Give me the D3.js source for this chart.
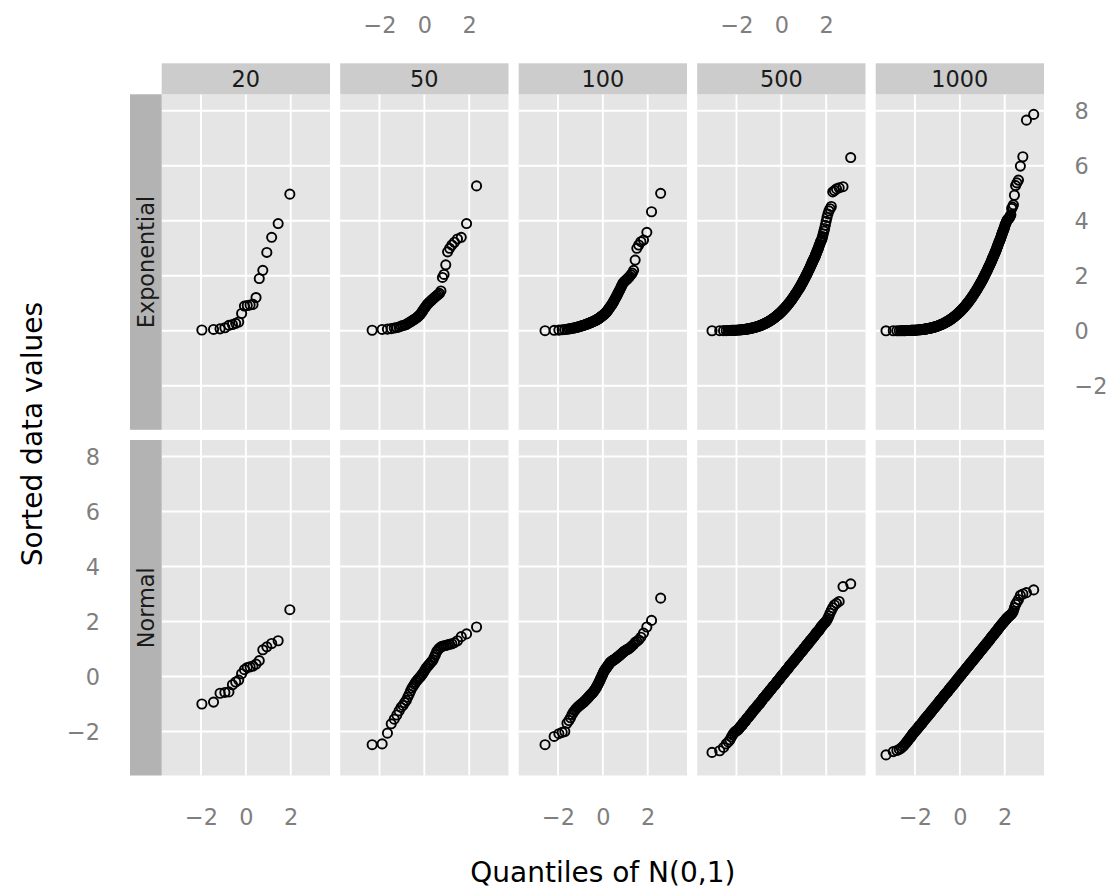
<!DOCTYPE html>
<html>
<head>
<meta charset="utf-8">
<script src="https://cdn.jsdelivr.net/npm/d3@7"></script>
<style>
  html, body { margin: 0; padding: 0; background: #ffffff; }
  svg { display: block; }
</style>
</head>
<body>
<svg id="chart" width="1110" height="891"></svg>
<script>
// ---------------- DATA ----------------
const sampleSizes = [20, 50, 100, 500, 1000];
const distributions = ["Exponential", "Normal"];
const xTickValues = [-2, 0, 2];
const yTickValues = [-2, 0, 2, 4, 6, 8];

// Sorted sample values, small samples (one value per rank 1..n)
const exp20 = [0.03, 0.05, 0.07, 0.11, 0.2, 0.23, 0.27, 0.32, 0.63, 0.9, 0.92, 0.94, 0.96, 1.21, 1.9, 2.2, 2.85, 3.4, 3.9, 4.97];
const norm20 = [-1.0, -0.93, -0.61, -0.58, -0.56, -0.3, -0.2, -0.13, 0.1, 0.25, 0.33, 0.35, 0.38, 0.45, 0.58, 0.97, 1.08, 1.2, 1.3, 2.43];

const exp50 = [0.02, 0.05, 0.06, 0.08, 0.1, 0.12, 0.14, 0.17, 0.19, 0.21, 0.23, 0.27, 0.3, 0.33, 0.36, 0.39, 0.42, 0.45, 0.48, 0.52,
  0.56, 0.6, 0.66, 0.72, 0.78, 0.84, 0.9, 0.96, 1.0, 1.04, 1.08, 1.12, 1.16, 1.2, 1.24, 1.28, 1.32, 1.36, 1.45, 1.94,
  2.05, 2.4, 2.87, 3.0, 3.12, 3.22, 3.34, 3.4, 3.9, 5.27];
const norm50 = [-2.48, -2.45, -2.06, -1.72, -1.55, -1.4, -1.25, -1.12, -1.05, -0.95, -0.87, -0.75, -0.64, -0.52, -0.42, -0.35, -0.28, -0.21, -0.15, -0.1,
  -0.05, -0.01, 0.05, 0.1, 0.16, 0.23, 0.3, 0.35, 0.4, 0.45, 0.5, 0.55, 0.6, 0.7, 0.8, 0.91, 0.98, 1.03, 1.08, 1.1,
  1.12, 1.13, 1.15, 1.17, 1.19, 1.23, 1.3, 1.45, 1.55, 1.8];

const exp100 = [0.004, 0.018, 0.025, 0.037, 0.049, 0.058, 0.071, 0.079, 0.088, 0.1, 0.108, 0.121, 0.128, 0.141, 0.149, 0.163, 0.172, 0.181, 0.192, 0.2,
  0.213, 0.219, 0.231, 0.242, 0.249, 0.262, 0.27, 0.281, 0.289, 0.302, 0.31, 0.322, 0.329, 0.342, 0.35, 0.361, 0.372, 0.379, 0.392, 0.405,
  0.42, 0.43, 0.447, 0.458, 0.478, 0.49, 0.507, 0.52, 0.537, 0.551, 0.568, 0.582, 0.6, 0.619, 0.64, 0.66, 0.683, 0.71, 0.738, 0.771,
  0.8, 0.828, 0.861, 0.89, 0.921, 0.952, 0.99, 1.03, 1.068, 1.108, 1.15, 1.193, 1.24, 1.288, 1.338, 1.39, 1.44, 1.49, 1.55, 1.61,
  1.67, 1.728, 1.77, 1.8, 1.832, 1.86, 1.9, 1.94, 1.98, 2.04, 2.1, 2.2, 2.57, 3.0, 3.12, 3.24, 3.3, 3.58, 4.33, 5.0];
const norm100 = [-2.48, -2.18, -2.08, -2.03, -2.0, -1.7, -1.6, -1.5, -1.38, -1.3, -1.24, -1.18, -1.14, -1.1, -1.07, -1.04, -1.01, -0.985, -0.96, -0.94,
  -0.91, -0.88, -0.85, -0.82, -0.8, -0.77, -0.74, -0.71, -0.68, -0.66, -0.63, -0.61, -0.59, -0.56, -0.53, -0.5, -0.47, -0.43, -0.4, -0.36,
  -0.32, -0.28, -0.24, -0.2, -0.15, -0.11, -0.06, -0.02, 0.03, 0.07, 0.12, 0.16, 0.2, 0.23, 0.26, 0.29, 0.32, 0.35, 0.38, 0.41,
  0.44, 0.47, 0.5, 0.52, 0.54, 0.56, 0.57, 0.59, 0.6, 0.62, 0.63, 0.65, 0.67, 0.69, 0.71, 0.73, 0.75, 0.77, 0.8, 0.82,
  0.85, 0.88, 0.9, 0.93, 0.95, 0.97, 0.99, 1.01, 1.04, 1.08, 1.12, 1.17, 1.24, 1.28, 1.33, 1.43, 1.58, 1.8, 2.04, 2.85];

// Large samples: points merge into a band, so the sorted values are read as [rank, value] pairs
const exp500Points = [[1,0.002],[2,0.004],[3,0.005],[4,0.008],[5,0.01],[6,0.011],[7,0.014],[8,0.016],[9,0.017],[10,0.02],[11,0.022],
  [13,0.024],[15,0.03],[17,0.033],[19,0.037],[21,0.042],[23,0.047],[25,0.05],[27,0.055],[29,0.058],[31,0.063],[33,0.068],[35,0.07],[37,0.075],[39,0.08],
  [42,0.087],[45,0.093],[48,0.1],[51,0.106],[54,0.113],[57,0.12],[60,0.127],[63,0.134],[66,0.14],[69,0.147],[72,0.154],[75,0.161],[78,0.168],[81,0.175],[84,0.183],[87,0.19],[90,0.197],[93,0.205],[96,0.212],[99,0.219],
  [104,0.232],[109,0.245],[114,0.257],[119,0.27],[124,0.284],[129,0.297],[134,0.311],[139,0.324],[144,0.338],[149,0.352],[154,0.367],[159,0.381],[164,0.396],[169,0.411],[174,0.426],[179,0.442],[184,0.457],[189,0.473],[194,0.489],[199,0.506],
  [204,0.522],[209,0.54],[214,0.557],[219,0.574],[224,0.592],[229,0.611],[234,0.629],[239,0.648],[244,0.667],[249,0.687],[254,0.707],[259,0.728],[264,0.749],[269,0.77],[274,0.792],[279,0.814],[284,0.837],[289,0.86],[294,0.884],[299,0.909],
  [304,0.934],[309,0.96],[314,0.986],[319,1.013],[324,1.041],[329,1.07],[334,1.1],
  [338,1.12],[343,1.155],[348,1.19],[353,1.225],[359,1.26],[363,1.295],[368,1.33],[372,1.365],[377,1.4],[381,1.435],[386,1.47],[389,1.505],[393,1.54],[397,1.575],[401,1.61],[404,1.645],[407,1.68],[410,1.715],[414,1.75],[416,1.785],
  [419,1.82],[422,1.855],[425,1.89],[427,1.925],[430,1.96],[432,1.995],[435,2.03],[437,2.065],[439,2.1],[441,2.135],[443,2.17],[445,2.205],[447,2.24],[449,2.275],[451,2.31],[452,2.345],[454,2.38],[455,2.415],[457,2.45],[458,2.485],
  [460,2.52],[461,2.555],[463,2.59],[464,2.625],[466,2.66],[467,2.695],[468,2.73],[469,2.765],[470,2.8],[471,2.835],[472,2.87],[473,2.905],[474,2.94],[475,2.975],[476,3.01],[477,3.08],[478,3.12],[479,3.15],[480,3.22],[481,3.26],
  [482,3.29],[483,3.36],[484,3.43],[485,3.52],[486,3.62],[487,3.72],[488,3.84],[489,3.98],[490,4.12],[491,4.25],[492,4.36],[493,4.44],[494,4.52],[495,5.05],[496,5.1],[497,5.16],[498,5.2],[499,5.24],[500,6.3]];

const exp1000Points = [[1,0.0004],[2,0.0018],[3,0.0027],[4,0.0031],[5,0.0048],[6,0.0052],[7,0.0069],[8,0.0077],[9,0.0085],[10,0.0093],[11,0.0106],[12,0.0117],[13,0.0121],[14,0.0135],[15,0.0148],[16,0.0152],[17,0.0164],[18,0.0171],[19,0.0186],[20,0.0198],[21,0.0203],[22,0.0216],
  [25,0.025],[28,0.028],[31,0.031],[34,0.034],[37,0.037],[40,0.04],[43,0.043],[46,0.047],[49,0.05],[52,0.053],[55,0.056],[58,0.059],[61,0.062],[64,0.066],[67,0.069],
  [70,0.072],[75,0.077],[80,0.083],[85,0.088],[90,0.094],[95,0.099],[100,0.105],[105,0.11],[110,0.116],[115,0.122],[120,0.127],[125,0.133],[130,0.139],[135,0.144],[140,0.15],[145,0.156],[150,0.162],[155,0.168],[160,0.174],
  [170,0.186],[180,0.198],[190,0.21],[200,0.223],[210,0.235],[220,0.248],[230,0.261],[240,0.274],[250,0.287],[260,0.3],[270,0.314],[280,0.328],[290,0.342],[300,0.356],[310,0.37],[320,0.385],[330,0.4],[340,0.415],[350,0.43],[360,0.446],
  [370,0.461],[380,0.477],[390,0.493],[400,0.51],[410,0.527],[420,0.544],[430,0.561],[440,0.579],[450,0.597],[460,0.615],[470,0.634],[480,0.653],[490,0.672],[500,0.692],[510,0.712],[520,0.733],[530,0.754],[540,0.776],[550,0.797],[560,0.82],
  [570,0.843],[580,0.866],[590,0.89],[600,0.915],[610,0.94],[620,0.966],[630,0.993],[640,1.02],[650,1.048],[660,1.077],[670,1.107],[680,1.138],[690,1.17],[700,1.202],
  [708,1.23],[718,1.27],[728,1.3],[737,1.34],[746,1.37],[755,1.41],[764,1.44],[772,1.48],[780,1.51],[787,1.55],[794,1.58],[801,1.62],[808,1.65],[814,1.69],[821,1.72],[827,1.76],[833,1.79],[839,1.83],[845,1.86],[850,1.9],
  [855,1.93],[860,1.97],[865,2.0],[869,2.04],[874,2.07],[878,2.11],[883,2.14],[887,2.18],[891,2.21],[894,2.25],[898,2.28],[901,2.32],[905,2.35],[908,2.39],[912,2.42],[915,2.46],[918,2.49],[920,2.53],[923,2.56],[925,2.6],
  [928,2.63],[930,2.67],[933,2.7],[935,2.74],[938,2.77],[940,2.81],[942,2.84],[944,2.88],[946,2.91],[948,2.95],[950,2.98],[951,3.02],[953,3.05],[954,3.09],[956,3.12],[957,3.16],[959,3.19],[960,3.23],[962,3.26],[963,3.3],
  [965,3.33],[966,3.37],[967,3.4],[968,3.44],[969,3.47],[970,3.51],[971,3.54],[972,3.58],[973,3.61],[974,3.65],[975,3.68],[976,3.72],[977,3.75],[978,3.82],
  [979,3.86],[980,3.9],[981,3.94],[982,3.98],[983,4.02],[984,4.05],[985,4.07],[986,4.09],[987,4.12],[988,4.17],[989,4.22],[990,4.45],[991,4.5],[992,4.58],[993,4.93],[994,5.28],[995,5.38],[996,5.48],[997,5.99],[998,6.33],[999,7.66],[1000,7.87]];

const norm500Points = [[1,-2.76],[2,-2.7],[3,-2.58],[4,-2.45],[5,-2.38],[6,-2.3],[7,-2.2],[8,-2.12],[9,-2.06],[10,-2.02],[11,-1.99],[12,-1.97],
  [13,-1.96],[14,-1.93],[15,-1.9],[16,-1.87],[17,-1.84],[18,-1.81],[19,-1.79],[20,-1.78],[21,-1.76],[22,-1.72],[23,-1.69],[24,-1.67],[25,-1.65],[26,-1.64],[28,-1.62],[29,-1.59],[31,-1.54],[32,-1.53],[34,-1.5],[35,-1.49],[37,-1.47],[39,-1.43],
  [41,-1.39],[43,-1.38],[45,-1.36],[47,-1.33],[49,-1.3],[51,-1.27],[53,-1.24],[55,-1.23],[58,-1.21],[60,-1.18],[63,-1.15],[65,-1.14],[68,-1.12],[71,-1.08],[74,-1.04],[77,-1.02],[80,-1.0],[83,-0.99],[86,-0.97],[89,-0.94],
  [93,-0.9],[96,-0.88],[99,-0.86],[102,-0.83],[106,-0.79],[110,-0.77],[114,-0.75],[117,-0.74],[121,-0.72],[125,-0.68],[129,-0.64],[133,-0.63],[138,-0.61],[142,-0.58],[146,-0.55],[150,-0.52],[155,-0.49],[159,-0.48],[164,-0.46],[168,-0.43],
  [173,-0.4],[177,-0.37],[182,-0.34],[187,-0.33],[192,-0.31],[196,-0.29],[201,-0.26],[206,-0.23],[211,-0.19],[216,-0.17],[221,-0.15],[226,-0.13],[231,-0.11],[236,-0.07],[241,-0.04],[245,-0.02],[250,0.0],[255,0.03],[260,0.06],[265,0.08],
  [270,0.1],[275,0.12],[280,0.14],[285,0.18],[290,0.21],[295,0.23],[300,0.25],[304,0.27],[309,0.29],[314,0.33],[319,0.36],[323,0.39],[328,0.41],[332,0.43],[337,0.45],[341,0.48],[346,0.5],[350,0.53],[355,0.56],[359,0.57],
  [363,0.59],[367,0.63],[372,0.66],[375,0.68],[379,0.7],[383,0.72],[387,0.74],[391,0.78],[395,0.81],[398,0.84],[402,0.86],[405,0.88],[408,0.9],[411,0.92],[415,0.94],[418,0.98],[421,1.01],[424,1.03],[427,1.05],[430,1.08],
  [433,1.11],[435,1.14],[438,1.16],[440,1.17],[443,1.19],[445,1.23],[448,1.26],[450,1.29],[452,1.31],[454,1.33],[456,1.35],[458,1.38],[460,1.41],[462,1.44],[464,1.46],[465,1.48],[467,1.5],[468,1.53],[470,1.56],[471,1.59],
  [473,1.61],[474,1.64],[476,1.66],[477,1.68],[478,1.7],[479,1.73],[480,1.76],[481,1.79],[482,1.82],[483,1.84],[484,1.86],[485,1.89],[486,1.92],[487,1.95],[488,1.97],[489,2.01],
  [490,2.05],[491,2.12],[492,2.2],[493,2.3],[494,2.4],[495,2.5],[496,2.6],[497,2.66],[498,2.73],[499,3.27],[500,3.37]];

const norm1000Points = [[1,-2.85],[2,-2.73],[3,-2.69],[4,-2.65],[5,-2.6],[6,-2.55],[7,-2.5],[8,-2.45],[9,-2.4],[10,-2.36],[11,-2.32],[12,-2.28],[13,-2.25],[14,-2.22],[15,-2.19],[16,-2.16],[17,-2.13],[18,-2.1],[19,-2.08],[20,-2.06],[21,-2.04],[22,-2.02],
  [23,-2.0],[24,-1.98],[26,-1.95],[27,-1.93],[29,-1.91],[31,-1.88],[33,-1.85],[34,-1.83],[36,-1.79],[38,-1.78],[41,-1.75],[43,-1.73],[45,-1.71],[47,-1.68],[50,-1.66],[52,-1.63],[55,-1.6],[58,-1.57],[61,-1.54],[64,-1.53],
  [67,-1.5],[70,-1.48],[74,-1.46],[77,-1.43],[81,-1.4],[85,-1.38],[89,-1.35],[93,-1.33],[97,-1.31],[101,-1.28],[106,-1.25],[111,-1.23],[116,-1.19],[121,-1.17],[126,-1.15],[131,-1.13],[136,-1.1],[141,-1.08],[147,-1.06],[153,-1.03],
  [159,-1.0],[165,-0.98],[172,-0.95],[178,-0.92],[185,-0.89],[191,-0.87],[198,-0.85],[205,-0.83],[212,-0.81],[219,-0.78],[227,-0.75],[234,-0.72],[242,-0.7],[250,-0.67],[258,-0.64],[266,-0.62],[275,-0.6],[283,-0.58],[292,-0.56],[300,-0.53],
  [309,-0.5],[318,-0.47],[327,-0.45],[336,-0.43],[345,-0.39],[354,-0.37],[364,-0.35],[373,-0.33],[383,-0.3],[392,-0.28],[402,-0.26],[411,-0.23],[421,-0.2],[431,-0.17],[441,-0.14],[451,-0.12],[461,-0.1],[471,-0.08],[481,-0.05],[490,-0.02],
  [500,0.01],[510,0.03],[520,0.05],[530,0.08],[540,0.1],[550,0.13],[560,0.16],[570,0.18],[580,0.2],[590,0.23],[599,0.25],[608,0.28],[618,0.31],[628,0.33],[637,0.35],[646,0.38],[656,0.4],[665,0.43],[674,0.46],[683,0.48],
  [692,0.5],[700,0.53],[709,0.55],[718,0.58],[726,0.61],[734,0.63],[743,0.65],[751,0.68],[759,0.7],[766,0.73],[774,0.76],[782,0.78],[789,0.8],[796,0.83],[803,0.86],[810,0.88],[816,0.91],[822,0.93],[829,0.96],[836,0.98],
  [842,1.01],[848,1.03],[854,1.06],[860,1.08],[865,1.11],[870,1.13],[875,1.16],[880,1.18],[885,1.21],[890,1.23],[895,1.26],[900,1.28],[904,1.31],[908,1.33],[912,1.36],[916,1.39],[920,1.42],[924,1.44],[927,1.47],[930,1.49],
  [934,1.52],[937,1.54],[940,1.57],[943,1.59],[946,1.62],[948,1.64],[951,1.67],[954,1.7],[956,1.72],[958,1.75],[960,1.78],[962,1.8],[965,1.83],[966,1.85],[968,1.88],[970,1.9],[972,1.93],[974,1.96],[975,1.98],[976,2.0],[978,2.02],
  [979,2.05],[980,2.07],[981,2.09],[982,2.11],[983,2.13],[984,2.15],[985,2.17],[986,2.19],[987,2.21],[988,2.23],[989,2.25],[990,2.28],[991,2.32],[992,2.38],[993,2.5],[994,2.62],[995,2.7],[996,2.8],[997,2.95],[998,3.0],[999,3.05],[1000,3.15]];

// ---------------- table built from the arrays ----------------
function asPairs(values) { return values.map((v, i) => [i + 1, v]); }
const panelTable = {
  Exponential: { 20: asPairs(exp20), 50: asPairs(exp50), 100: asPairs(exp100), 500: exp500Points, 1000: exp1000Points },
  Normal:      { 20: asPairs(norm20), 50: asPairs(norm50), 100: asPairs(norm100), 500: norm500Points, 1000: norm1000Points }
};

// Theoretical N(0,1) quantile for a rank (stat_qq: qnorm(ppoints(n)))
function qnorm(p) {
  const a = [-3.969683028665376e+01, 2.209460984245205e+02, -2.759285104469687e+02, 1.383577518672690e+02, -3.066479806614716e+01, 2.506628277459239e+00];
  const b = [-5.447609879822406e+01, 1.615858368580409e+02, -1.556989798598866e+02, 6.680131188771972e+01, -1.328068155288572e+01];
  const c = [-7.784894002430293e-03, -3.223964580411365e-01, -2.400758277161838e+00, -2.549732539343734e+00, 4.374664141464968e+00, 2.938163982698783e+00];
  const d = [7.784695709041462e-03, 3.224671290700398e-01, 2.445134137142996e+00, 3.754408661907416e+00];
  const pl = 0.02425, ph = 1 - pl;
  let q, r;
  if (p < pl) {
    q = Math.sqrt(-2 * Math.log(p));
    return (((((c[0]*q+c[1])*q+c[2])*q+c[3])*q+c[4])*q+c[5]) / ((((d[0]*q+d[1])*q+d[2])*q+d[3])*q+1);
  }
  if (p > ph) {
    q = Math.sqrt(-2 * Math.log(1 - p));
    return -(((((c[0]*q+c[1])*q+c[2])*q+c[3])*q+c[4])*q+c[5]) / ((((d[0]*q+d[1])*q+d[2])*q+d[3])*q+1);
  }
  q = p - 0.5; r = q * q;
  return (((((a[0]*r+a[1])*r+a[2])*r+a[3])*r+a[4])*r+a[5])*q / (((((b[0]*r+b[1])*r+b[2])*r+b[3])*r+b[4])*r+1);
}
function ppoint(rank, n) { const a = n <= 10 ? 3 / 8 : 0.5; return (rank - a) / (n + 1 - 2 * a); }

// ---------------- layout & styles ----------------
const FONT = "'DejaVu Sans', 'Liberation Sans', Arial, sans-serif";
const panelLeft0 = 161.7, panelStep = 178.5, panelW = 168.3;
const rowTops = [94.3, 440], panelH = 335.5;
const topStripY = 63.3, topStripH = 31;
const leftStripX = 130, leftStripW = 31.7;
const tickFont = 22.4, stripFont = 22.4, titleFont = 28;

const svg = d3.select("#chart");
svg.append("rect").attr("width", 1110).attr("height", 891).attr("fill", "#ffffff");

const x = d3.scaleLinear().domain([-3.75, 3.75]).range([0, panelW]);
const y = d3.scaleLinear().domain([-3.6, 8.6]).range([panelH, 0]);

distributions.forEach((dist, r) => {
  sampleSizes.forEach((n, c) => {
    const left = panelLeft0 + c * panelStep;
    const top = rowTops[r];
    const g = svg.append("g").attr("transform", `translate(${left},${top})`);
    g.append("rect").attr("width", panelW).attr("height", panelH).attr("fill", "#e5e5e5");
    g.selectAll("line.gy").data(yTickValues).join("line").attr("class", "gy")
      .attr("x1", 0).attr("x2", panelW)
      .attr("y1", d => y(d)).attr("y2", d => y(d))
      .attr("stroke", "#ffffff").attr("stroke-width", 1.9);
    g.selectAll("line.gx").data(xTickValues).join("line").attr("class", "gx")
      .attr("y1", 0).attr("y2", panelH)
      .attr("x1", d => x(d)).attr("x2", d => x(d))
      .attr("stroke", "#ffffff").attr("stroke-width", 1.9);

    const pts = panelTable[dist][n].map(([rk, v]) => ({ q: qnorm(ppoint(rk, n)), v }));
    g.selectAll("circle").data(pts).join("circle")
      .attr("cx", d => x(d.q)).attr("cy", d => y(d.v)).attr("r", 4.6)
      .attr("fill", "none").attr("stroke", "#000000").attr("stroke-width", 1.9);
  });
});

// top strips
sampleSizes.forEach((n, c) => {
  const left = panelLeft0 + c * panelStep;
  svg.append("rect").attr("x", left).attr("y", topStripY).attr("width", panelW).attr("height", topStripH).attr("fill", "#cccccc");
  svg.append("text").attr("x", left + panelW / 2).attr("y", topStripY + topStripH / 2).attr("dy", "0.36em")
    .attr("text-anchor", "middle").attr("font-family", FONT).attr("font-size", stripFont).attr("fill", "#1a1a1a").text(String(n));
});
// left strips
distributions.forEach((dist, r) => {
  const top = rowTops[r];
  svg.append("rect").attr("x", leftStripX).attr("y", top).attr("width", leftStripW).attr("height", panelH).attr("fill", "#b3b3b3");
  svg.append("text").attr("transform", `translate(${leftStripX + leftStripW / 2},${top + panelH / 2}) rotate(-90)`)
    .attr("dy", "0.36em").attr("text-anchor", "middle").attr("font-family", FONT).attr("font-size", stripFont).attr("fill", "#1a1a1a").text(dist);
});

function styleAxis(sel, dy) {
  sel.select(".domain").remove();
  sel.selectAll(".tick line").remove();
  sel.selectAll(".tick text").attr("font-family", FONT).attr("font-size", tickFont).attr("fill", "#7f7f7f");
  if (dy !== undefined) sel.selectAll(".tick text").attr("dy", dy);
}
// alternating x axes: bottom under columns 1,3,5; top above columns 2,4
sampleSizes.forEach((n, c) => {
  const left = panelLeft0 + c * panelStep;
  if (c % 2 === 0) {
    svg.append("g").attr("transform", `translate(${left},${rowTops[1] + panelH})`)
      .call(d3.axisBottom(x).tickValues(xTickValues).tickSize(0).tickPadding(33.9))
      .call(sel => styleAxis(sel));
  } else {
    svg.append("g").attr("transform", `translate(${left},${topStripY})`)
      .call(d3.axisTop(x).tickValues(xTickValues).tickSize(0).tickPadding(30))
      .call(sel => styleAxis(sel));
  }
});
// y axes: right of the top row, left of the bottom row
svg.append("g").attr("transform", `translate(${panelLeft0 + 4 * panelStep + panelW},${rowTops[0]})`)
  .call(d3.axisRight(y).tickValues(yTickValues).tickSize(0).tickPadding(30.5))
  .call(sel => styleAxis(sel, "0.36em"));
svg.append("g").attr("transform", `translate(${leftStripX},${rowTops[1]})`)
  .call(d3.axisLeft(y).tickValues(yTickValues).tickSize(0).tickPadding(30))
  .call(sel => styleAxis(sel, "0.36em"));

// axis titles
svg.append("text").attr("x", (panelLeft0 + panelLeft0 + 4 * panelStep + panelW) / 2).attr("y", 882)
  .attr("text-anchor", "middle").attr("font-family", FONT).attr("font-size", titleFont).attr("fill", "#000000")
  .text("Quantiles of N(0,1)");
svg.append("text").attr("transform", `translate(42,434) rotate(-90)`)
  .attr("text-anchor", "middle").attr("font-family", FONT).attr("font-size", titleFont).attr("fill", "#000000")
  .text("Sorted data values");
</script>
</body>
</html>
